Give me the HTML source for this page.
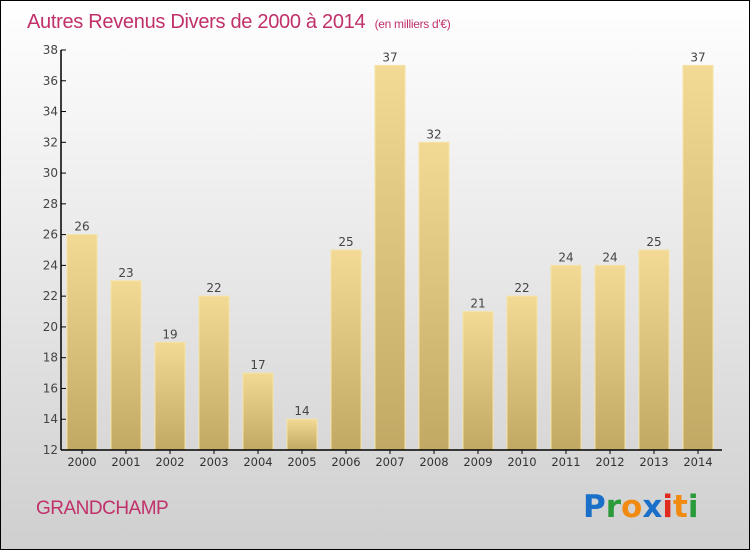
<!DOCTYPE html>
<html><head><meta charset="utf-8"><style>
html,body{margin:0;padding:0}
body{width:750px;height:550px;overflow:hidden;font-family:"DejaVu Sans","Liberation Sans",sans-serif}
</style></head><body>
<svg width="750" height="550" xmlns="http://www.w3.org/2000/svg">
<defs>
<linearGradient id="bg" x1="0" y1="0" x2="0" y2="1"><stop offset="0" stop-color="#ffffff"/><stop offset="1" stop-color="#cfcfcf"/></linearGradient>
<linearGradient id="bar" x1="0" y1="0" x2="0" y2="1"><stop offset="0" stop-color="#f3da94"/><stop offset="1" stop-color="#c1a863"/></linearGradient>
</defs>
<rect x="0.5" y="0.5" width="749" height="549" fill="url(#bg)" stroke="#000"/>
<text x="27" y="28" font-size="20" font-family="'Liberation Sans',sans-serif" fill="#c0306a" style="letter-spacing:-0.3px">Autres Revenus Divers de 2000 à 2014 <tspan font-size="12" dx="4">(en milliers d'€)</tspan></text>
<g id="plot"></g>
<text x="36" y="514" font-size="19" font-family="'Liberation Sans',sans-serif" fill="#c0306a" style="letter-spacing:-0.5px">GRANDCHAMP</text>
<g font-size="31" font-weight="bold" font-family="'DejaVu Sans',sans-serif">
<text x="583" y="517"><tspan fill="#1a6fc9">P</tspan><tspan fill="#2a9a3a">r</tspan><tspan fill="#f08a10">o</tspan><tspan fill="#1a6fc9">x</tspan><tspan fill="#e02a20">i</tspan><tspan fill="#f08a10">t</tspan><tspan fill="#2a9a3a">i</tspan></text>
</g>
</svg>
<script>
const years=["2000","2001","2002","2003","2004","2005","2006","2007","2008","2009","2010","2011","2012","2013","2014"];
const values=[26,23,19,22,17,14,25,37,32,21,22,24,24,25,37];
const yTicks=[12,14,16,18,20,22,24,26,28,30,32,34,36,38];
const NS="http://www.w3.org/2000/svg";
const g=document.getElementById('plot');
const yMin=12,yMax=38,plotTop=50,plotBot=450,x0=61;
const yScale=v=>plotBot-(v-yMin)/(yMax-yMin)*(plotBot-plotTop);
const xc=i=>82+i*44;
function el(t,a,txt){const e=document.createElementNS(NS,t);for(const k in a)e.setAttribute(k,a[k]);if(txt!==undefined)e.textContent=txt;g.appendChild(e);return e;}
values.forEach((v,i)=>{
 const r=el('rect',{x:xc(i)-15,y:yScale(v),width:30,height:plotBot-yScale(v),fill:'url(#bar)',stroke:'#f5e3a8','stroke-width':1});
 
 
 const t=el('text',{x:xc(i),y:yScale(v)-4,'text-anchor':'middle','font-size':12,fill:'#444'},String(v));
 
 
 const tk=el('line',{x1:xc(i),x2:xc(i),y1:plotBot,y2:plotBot+4,stroke:'#000'});
 
 
 const xl=el('text',{x:xc(i),y:plotBot+16,'text-anchor':'middle','font-size':11.5,fill:'#333'},years[i]);
 
 
});
yTicks.forEach(v=>{
 const l=el('line',{x1:x0,x2:x0+5,y1:yScale(v),y2:yScale(v),stroke:'#000'});
 
 
 const t=el('text',{x:x0-3,y:yScale(v)+4,'text-anchor':'end','font-size':12,fill:'#444'},String(v));
 
 
});
const ya=el('line',{x1:x0,x2:x0,y1:plotTop,y2:plotBot,stroke:'#000','stroke-width':1.5});


const xa=el('line',{x1:x0,x2:722,y1:plotBot,y2:plotBot,stroke:'#000','stroke-width':1.5});


</script>
</body></html>
